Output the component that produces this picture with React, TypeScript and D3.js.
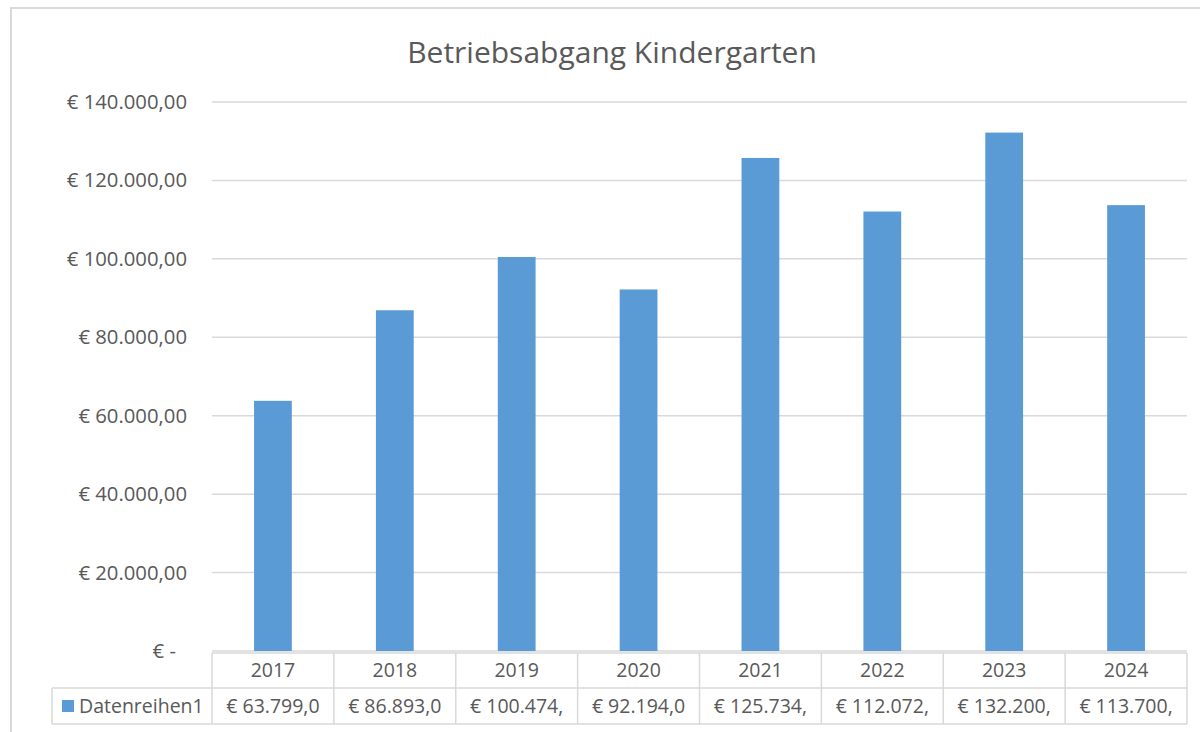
import React, { useEffect, useRef } from 'react';
import * as d3 from 'd3';

const years = ['2017', '2018', '2019', '2020', '2021', '2022', '2023', '2024'];
const values = [63799, 86893, 100474, 92194, 125734, 112072, 132200, 113700];
const yTicks = [0, 20000, 40000, 60000, 80000, 100000, 120000, 140000];
const seriesName = 'Datenreihen1';
const title = 'Betriebsabgang Kindergarten';

const W = 1200, H = 732;
const FONT = '"Open Sans", sans-serif';
const TXT = '#595959';
const GRID = '#d9d9d9';
const BAR = '#5b9bd5';

const de = d3.formatLocale({ decimal: ',', thousands: '.', grouping: [3], currency: ['€ ', ''] });
const money = de.format('$,.2f');

export default function App() {
  const ref = useRef<SVGSVGElement>(null);

  useEffect(() => {
    const svg = d3.select(ref.current);
    svg.selectAll('*').remove();

    const left = 212, right = 1187, top = 102, bottom = 651;
    const x = d3.scaleBand().domain(years).range([left, right]).padding(0);
    const y = d3.scaleLinear().domain([0, 140000]).range([bottom, top]);

    // outer chart border
    svg.append('rect')
      .attr('x', 11).attr('y', 8).attr('width', 1200).attr('height', 740)
      .attr('fill', 'none').attr('stroke', GRID).attr('stroke-width', 2);

    // title
    svg.append('text')
      .attr('x', 612).attr('y', 63)
      .attr('text-anchor', 'middle')
      .attr('font-family', FONT).attr('font-size', 30)
      .attr('fill', TXT)
      .text(title);

    // gridlines
    svg.append('g').selectAll('line').data(yTicks).join('line')
      .attr('x1', left).attr('x2', right)
      .attr('y1', d => y(d)).attr('y2', d => y(d))
      .attr('stroke', GRID).attr('stroke-width', 1.5);

    // y labels
    svg.append('g').selectAll('text').data(yTicks).join('text')
      .attr('x', d => (d === 0 ? 176 : 187))
      .attr('y', d => y(d) + 7)
      .attr('text-anchor', 'end')
      .attr('font-family', FONT).attr('font-size', 20.3)
      .attr('fill', TXT)
      .text(d => (d === 0 ? '€ -' : money(d)));

    // bars
    const bw = x.bandwidth() * 0.31;
    svg.append('g').selectAll('rect').data(values).join('rect')
      .attr('x', (d, i) => x(years[i])! + (x.bandwidth() - bw) / 2)
      .attr('y', d => y(d))
      .attr('width', bw)
      .attr('height', d => bottom - y(d))
      .attr('fill', BAR);

    // data table
    const r0 = 653, r1 = 688, r2 = 724, legL = 52;
    const tbl = svg.append('g').attr('stroke', GRID).attr('stroke-width', 1.5);
    tbl.append('line').attr('x1', left).attr('x2', right).attr('y1', r0).attr('y2', r0);
    tbl.append('line').attr('x1', legL).attr('x2', right).attr('y1', r1).attr('y2', r1);
    tbl.append('line').attr('x1', legL).attr('x2', right).attr('y1', r2).attr('y2', r2);
    tbl.append('line').attr('x1', legL).attr('x2', legL).attr('y1', r1).attr('y2', r2);
    const edges = years.map(yr => x(yr)!).concat([right]);
    tbl.selectAll('line.v').data(edges).join('line').attr('class', 'v')
      .attr('x1', d => d).attr('x2', d => d).attr('y1', r0).attr('y2', r2);

    svg.append('g').selectAll('text').data(years).join('text')
      .attr('x', d => x(d)! + x.bandwidth() / 2)
      .attr('y', r0 + 24)
      .attr('text-anchor', 'middle')
      .attr('font-family', FONT).attr('font-size', 19.5)
      .attr('fill', TXT)
      .text(d => d);

    // cells show only what fits, like the original
    svg.append('g').selectAll('text').data(values).join('text')
      .attr('x', (d, i) => x(years[i])! + x.bandwidth() / 2)
      .attr('y', r1 + 25)
      .attr('text-anchor', 'middle')
      .attr('font-family', FONT).attr('font-size', 19.5)
      .attr('fill', TXT)
      .text(d => money(d).slice(0, 10));

    svg.append('rect')
      .attr('x', 62).attr('y', 700).attr('width', 12).attr('height', 12)
      .attr('fill', BAR);
    svg.append('text')
      .attr('x', 79).attr('y', r1 + 25)
      .attr('font-family', FONT).attr('font-size', 19.5)
      .attr('fill', TXT)
      .text(seriesName);
  }, []);

  return (
    <svg ref={ref} width={W} height={H}
      style={{ position: 'absolute', left: 0, top: 0, background: '#fff' }} />
  );
}
